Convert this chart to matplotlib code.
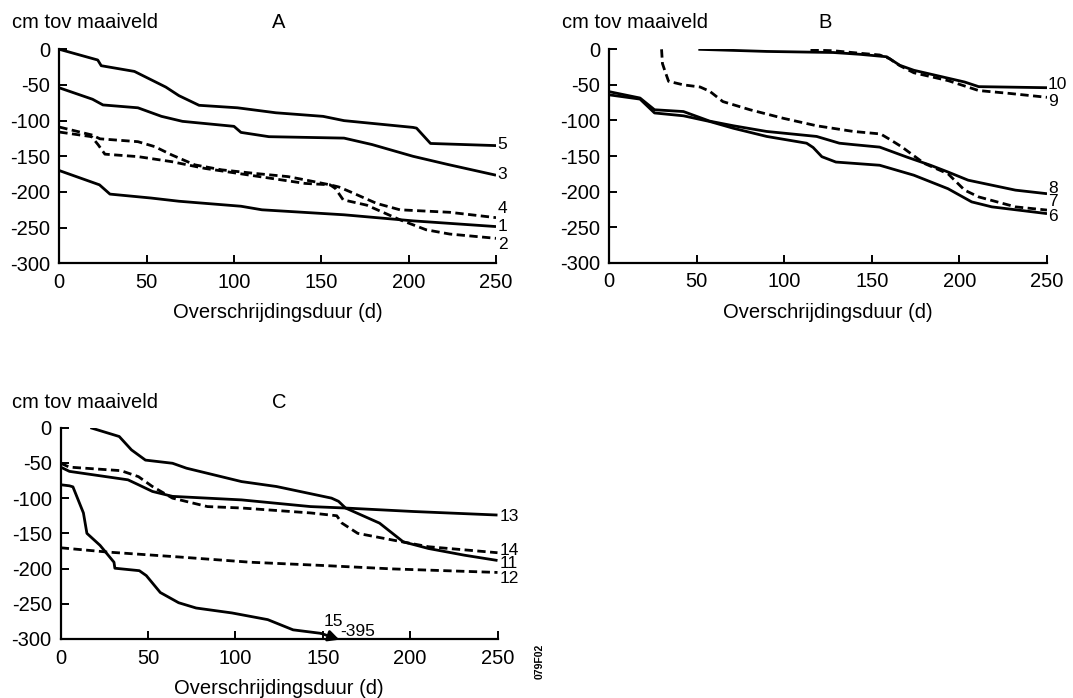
import matplotlib
matplotlib.use("Agg")
import matplotlib.pyplot as plt

plt.rcParams['font.family'] = ['Liberation Sans', 'DejaVu Sans']
plt.rcParams['axes.unicode_minus'] = False

# ---- Panel A ----
a5_x = [0, 22, 24, 43, 61, 68.5, 80, 102, 124, 151, 163, 202.5, 204.5, 212.5, 250]
a5_y = [0, -15, -23, -31, -53, -65, -78.5, -82, -89, -94, -100, -109.5, -110.5, -132, -135]
a3_x = [0, 19, 25, 45, 58.5, 70.5, 100, 104, 120, 163, 179, 202.5, 222.5, 250]
a3_y = [-54, -70, -78, -82, -94, -101, -108, -116.5, -122.5, -124.5, -133.5, -150, -161.5, -176.5]
a4_x = [0, 18.5, 23.3, 45, 54.7, 64.3, 77.6, 93, 112, 131, 140.6, 155, 160, 166.3, 181.6, 195, 223.5, 250]
a4_y = [-109, -120, -125.5, -129.5, -136.5, -148, -162, -169, -174, -178.5, -183, -190, -193, -199.5, -216, -225, -228.5, -236]
a2_x = [0, 18.5, 22.3, 26.1, 45.2, 64.3, 83.4, 102.4, 121.5, 140.6, 155, 158, 162.5, 176, 195, 210, 223.5, 250]
a2_y = [-116, -122.5, -134, -147, -150.5, -157.5, -167, -174, -181, -188, -190, -195, -211, -218.5, -239, -253, -259, -265]
a1_x = [0, 23, 29, 52.5, 68.5, 104, 116, 163, 202.5, 250]
a1_y = [-170, -190, -203, -208.5, -213, -220, -225, -232, -240.5, -248.5]

# ---- Panel B ----
b10_x = [51, 90, 128, 143, 158.5, 166, 174, 203, 211, 250]
b10_y = [0, -3, -4.5, -7, -10.5, -22.5, -29.5, -46, -52.5, -54]
b9_x = [115, 128, 143, 154.5, 160, 166, 174, 193.5, 211, 228.5, 250]
b9_y = [-1, -2, -5.5, -8, -13, -23, -33, -44, -58, -62, -67.5]
b7_x = [30, 30.5, 32, 34, 42.5, 52, 57.5, 65, 80.5, 99.5, 118.5, 139.5, 155, 160.5, 167,
        180, 193.5, 203, 211, 232, 250]
b7_y = [0, -20, -31, -45, -50, -53, -59, -73.5, -85, -97, -107.5, -115.5, -119, -127, -137,
        -160.5, -175, -198, -207.5, -221.5, -226]
b8_x = [0, 17.7, 26, 42.5, 57.5, 71, 90, 118.5, 131.5, 139.5, 154.5, 170, 183.5, 193.5, 205, 232, 250]
b8_y = [-59.5, -68.5, -85, -87.5, -101, -107.5, -115.5, -122.5, -132, -134, -137.5, -151.5, -163,
        -172.5, -184, -198, -203]
b6_x = [0, 17.7, 26, 42.5, 57.5, 71, 90, 112.8, 116.5, 121.5, 129.5, 154.5, 174, 193.5, 207, 218.5, 250]
b6_y = [-64, -70, -89.5, -93.5, -101.5, -111, -122.5, -132, -138, -151, -158.5, -163, -177, -196,
        -214.5, -221.5, -231]

# ---- Panel C ----
c11_x = [17, 33.5, 40.5, 48.5, 64, 72, 103.5, 123.5, 155, 159, 163, 182.5, 196, 210.5, 231, 250]
c11_y = [0, -12.5, -31.5, -46, -50.5, -57.5, -76.5, -83.5, -100, -104.5, -114, -135.5, -162,
         -171.5, -181, -188.5]
c13_x = [0, 5, 38.5, 44.5, 52.5, 64, 103.5, 143, 162.5, 202, 250]
c13_y = [-56, -62, -74, -81, -90.5, -97.5, -102.5, -112, -114, -119, -124]
c14_x = [0, 5, 34.5, 44.5, 52.5, 64, 84, 103.5, 143, 158, 161, 170, 190, 210.5, 250]
c14_y = [-50.5, -56, -61, -69.5, -83.5, -100, -112, -114, -121, -125, -135.5, -150, -159.5,
         -169, -177.5]
c12_x = [0, 26.5, 67.5, 108.5, 149, 190, 250]
c12_y = [-170.5, -176.5, -183.5, -191, -195.5, -200.5, -205.5]
c15_x = [0, 5, 7, 13, 15, 22.5, 30.5, 31, 45, 49, 57, 67.5, 77.5, 98, 118.5, 133, 149]
c15_y = [-81, -82.5, -84, -121, -150, -167, -191, -199.5, -203, -210, -234, -248.5, -256,
         -263, -272.5, -287, -292]
c15_arrow_tip = (159.5, -301)
c15_off_scale = "-395"

x_ticks = [0, 50, 100, 150, 200, 250]
y_ticks = [0, -50, -100, -150, -200, -250, -300]
y_title = "cm tov maaiveld"
x_title = "Overschrijdingsduur (d)"

FS = 14.5
LFS = 12.5
SOLID = dict(color='black', lw=2.0, solid_capstyle='butt')
DASH = dict(color='black', lw=2.0, linestyle=(0, (3, 1.6)))

fig = plt.figure(figsize=(10.73, 6.98), dpi=100)
W, H = 1073, 698


def make_axes(left_px, right_px, top_px, bottom_px):
    ax = fig.add_axes([left_px / W, 1 - bottom_px / H,
                       (right_px - left_px) / W, (bottom_px - top_px) / H])
    ax.set_xlim(0, 250)
    ax.set_ylim(-300, 0)
    for s in ('top', 'right'):
        ax.spines[s].set_visible(False)
    for s in ('left', 'bottom'):
        ax.spines[s].set_linewidth(1.6)
    ax.set_xticks(x_ticks)
    ax.set_yticks(y_ticks)
    ax.tick_params(direction='in', length=5.5, width=1.4, labelsize=FS, colors='black')
    ax.tick_params(axis='y', pad=6.5)
    ax.tick_params(axis='x', pad=7)
    ax.set_xlabel(x_title, fontsize=FS, labelpad=8)
    return ax


def label(ax, x, y, s):
    ax.text(x, y, s, fontsize=LFS, ha='left', va='center', clip_on=False)


# Panel A
axA = make_axes(59.3, 496, 49.3, 263.3)
axA.plot(a5_x, a5_y, **SOLID)
axA.plot(a3_x, a3_y, **SOLID)
axA.plot(a1_x, a1_y, **SOLID)
axA.plot(a4_x, a4_y, **DASH)
axA.plot(a2_x, a2_y, **DASH)
label(axA, 251, -133, "5")
label(axA, 251, -175, "3")
label(axA, 251, -223, "4")
label(axA, 251, -249, "1")
label(axA, 251, -273, "2")
fig.text(12 / W, 1 - 28 / H, y_title, fontsize=FS, ha='left', va='baseline')
fig.text(279 / W, 1 - 28 / H, "A", fontsize=FS, ha='center', va='baseline')

# Panel B
axB = make_axes(609, 1047, 49.3, 262.7)
axB.plot(b10_x, b10_y, **SOLID)
axB.plot(b8_x, b8_y, **SOLID)
axB.plot(b6_x, b6_y, **SOLID)
axB.plot(b9_x, b9_y, **DASH)
axB.plot(b7_x, b7_y, **DASH)
label(axB, 250.5, -49.5, "10")
label(axB, 250.5, -73, "9")
label(axB, 250.5, -195, "8")
label(axB, 250.5, -214.5, "7")
label(axB, 250.5, -235.5, "6")
fig.text(562 / W, 1 - 28 / H, y_title, fontsize=FS, ha='left', va='baseline')
fig.text(825 / W, 1 - 28 / H, "B", fontsize=FS, ha='center', va='baseline')

# Panel C
axC = make_axes(60.7, 497.5, 427.7, 639)
axC.plot(c11_x, c11_y, **SOLID)
axC.plot(c13_x, c13_y, **SOLID)
axC.plot(c15_x, c15_y, **SOLID)
axC.plot(c14_x, c14_y, **DASH)
axC.plot(c12_x, c12_y, **DASH)
axC.annotate("", xy=c15_arrow_tip, xytext=(c15_x[-1], c15_y[-1]),
             arrowprops=dict(arrowstyle='-|>', mutation_scale=16, lw=2.0, color='black',
                             shrinkA=0, shrinkB=0),
             annotation_clip=False)
label(axC, 251, -125.5, "13")
label(axC, 251, -175, "14")
label(axC, 251, -193.5, "11")
label(axC, 251, -214, "12")
axC.text(156, -274.5, "15", fontsize=LFS, ha='center', va='center')
axC.text(170, -289.5, c15_off_scale, fontsize=LFS, ha='center', va='center', clip_on=False)
fig.text(12 / W, 1 - 408 / H, y_title, fontsize=FS, ha='left', va='baseline')
fig.text(279 / W, 1 - 408 / H, "C", fontsize=FS, ha='center', va='baseline')

fig.text(540 / W, 1 - 661 / H, "079F02", fontsize=7.5, fontweight='bold',
         rotation=90, ha='center', va='center')

fig.savefig("out.png", dpi=100, facecolor='white')
